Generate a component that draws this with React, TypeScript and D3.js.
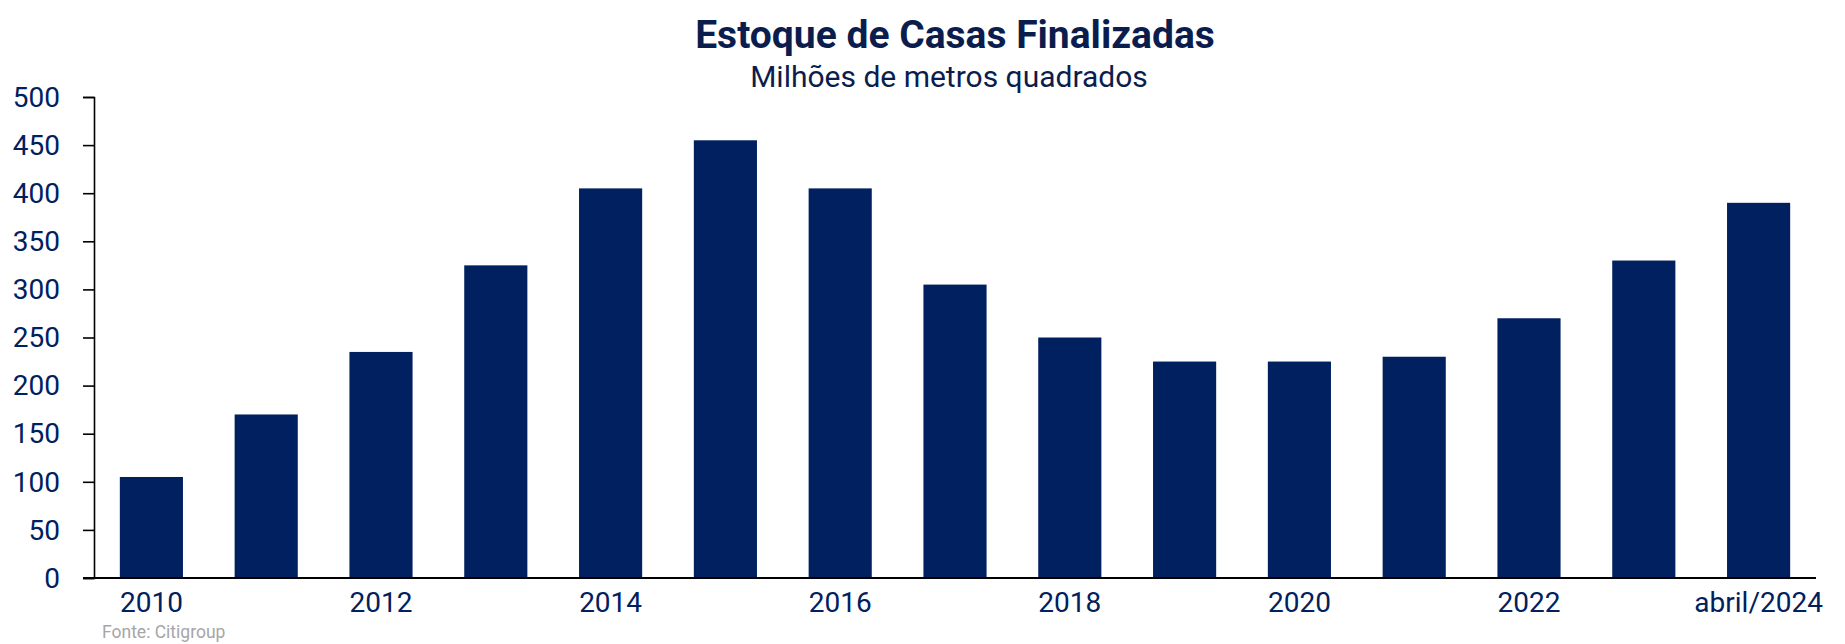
import React, { useEffect, useRef } from "react";
import { select, scaleBand, scaleLinear, axisLeft, axisBottom } from "d3";

const categories = [
  "2010", "2011", "2012", "2013", "2014", "2015", "2016", "2017",
  "2018", "2019", "2020", "2021", "2022", "2023", "abril/2024",
];
const values = [105, 170, 235, 325, 405, 455, 405, 305, 250, 225, 225, 230, 270, 330, 390];
const shownLabels = ["2010", "2012", "2014", "2016", "2018", "2020", "2022", "abril/2024"];
const yTicks = [0, 50, 100, 150, 200, 250, 300, 350, 400, 450, 500];

const title = "Estoque de Casas Finalizadas";
const subtitle = "Milhões de metros quadrados";
const source = "Fonte: Citigroup";

const W = 1845;
const H = 644;
const FONT = "Roboto, 'Noto Sans', sans-serif";
const NAVY = "#002060";

function App() {
  const svgRef = useRef<SVGSVGElement>(null);

  useEffect(() => {
    const svg = select(svgRef.current);
    const left = 94;
    const right = 1816;
    const top = 97;
    const bottom = 578;

    const x = scaleBand()
      .domain(categories)
      .range([left, right])
      .paddingInner(0.45)
      .paddingOuter(0.225);
    const y = scaleLinear().domain([0, 500]).range([bottom, top]);

    // bars
    svg
      .select(".bars")
      .selectAll("rect")
      .data(values)
      .join("rect")
      .attr("x", (d, i) => x(categories[i]))
      .attr("width", x.bandwidth())
      .attr("y", (d) => y(d))
      .attr("height", (d) => y(0) - y(d))
      .attr("fill", NAVY);

    // y axis
    const yAxis = axisLeft(y).tickValues(yTicks).tickSize(11).tickPadding(23);
    const yg = svg.select(".y-axis").attr("transform", `translate(${left},0)`).call(yAxis);
    yg.select(".domain").attr("stroke", "#000").attr("stroke-width", 1.6);
    yg.selectAll(".tick line").attr("stroke", "#000").attr("stroke-width", 1.6);
    yg.selectAll(".tick text")
      .attr("fill", NAVY)
      .attr("font-family", FONT)
      .attr("font-size", 28)
      .attr("dy", "0.33em");

    // x axis
    const xAxis = axisBottom(x)
      .tickSize(0)
      .tickFormat((d) => (shownLabels.includes(d) ? d : ""));
    const xg = svg.select(".x-axis").attr("transform", `translate(0,${bottom})`).call(xAxis);
    xg.select(".domain").attr("d", `M${left - 11},0H${right}`).attr("stroke", "#000").attr("stroke-width", 2);
    xg.selectAll(".tick text")
      .attr("fill", NAVY)
      .attr("font-family", FONT)
      .attr("font-size", 28)
      .attr("y", 34)
      .attr("dy", 0);
  }, []);

  return (
    <svg
      ref={svgRef}
      width={W}
      height={H}
      style={{ position: "absolute", left: 0, top: 0, background: "#fff" }}
    >
      <g className="bars" />
      <g className="y-axis" />
      <g className="x-axis" />
      <text x={955} y={48} textAnchor="middle" fontFamily={FONT} fontWeight={700} fontSize={39} fill="#0b1d4d">
        {title}
      </text>
      <text x={949} y={87} textAnchor="middle" fontFamily={FONT} fontSize={30} fill="#0b1d4d">
        {subtitle}
      </text>
      <text x={102} y={638} fontFamily={FONT} fontSize={17.5} fill="#a6a6a6">
        {source}
      </text>
    </svg>
  );
}

export default App;
